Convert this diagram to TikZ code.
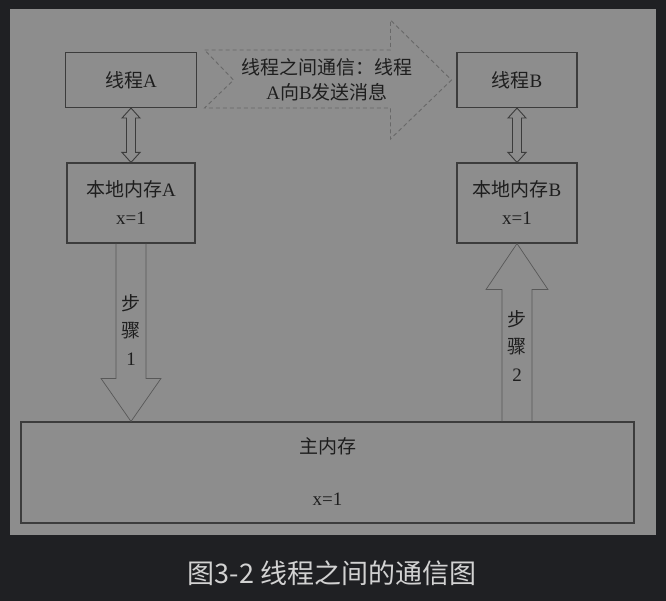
\documentclass[tikz,border=0pt]{standalone}
\usepackage{fontspec}
\setmainfont{Liberation Serif}
\newfontfamily\cjk{Noto Sans CJK SC}
\usetikzlibrary{positioning, calc}
\definecolor{bgdark}{HTML}{1F2023}
\definecolor{panelgray}{HTML}{8D8D8D}
\definecolor{boxline}{HTML}{3C3C3C}
\definecolor{arrline}{HTML}{585858}
\definecolor{dashline}{HTML}{686868}
\definecolor{inktext}{HTML}{1E1E1E}
\definecolor{captext}{HTML}{D2D2D2}

\begin{document}
\begin{tikzpicture}[x=1pt, y=-1pt, font=\fontsize{19}{25}\selectfont, text=inktext]
    \tikzset{
      membox/.style={draw=boxline, line width=1.1pt, align=center, inner sep=0pt},
      linkarrow/.style={draw=boxline, line width=0.9pt},
      steparrow/.style={draw=arrline, line width=0.7pt},
      msgarrow/.style={draw=dashline, line width=0.9pt, dash pattern=on 4pt off 3pt},
      steplabel/.style={align=center, font=\fontsize{19}{27.5}\selectfont}
    }
    \fill[bgdark] (0,0) rectangle (666,601);
    \fill[panelgray] (10,9) rectangle (656,535);
    \useasboundingbox (0,0) rectangle (666,601);

    \node[membox, minimum width=131, minimum height=55] (ta) at (131,80) {{\cjk 线程}A};
    \node[membox, minimum width=120, minimum height=55] (tb) at (517,80) {{\cjk 线程}B};
    \node[membox, minimum width=128, minimum height=80] (la) at (131,203) {{\cjk 本地内存}A\\[3pt]x=1};
    \node[membox, minimum width=120, minimum height=80] (lb) at (517,203) {{\cjk 本地内存}B\\[3pt]x=1};
    \node[membox, minimum width=613, minimum height=101] (mm) at (327.5,472.5) {};
    \node (mmt) at ($(mm.north)+(0,25)$) {\cjk 主内存};
    \node (mmx) at ($(mm.south)+(0,-24)$) {x=1};

    % thread <-> local memory
    \draw[linkarrow] (ta.south) -- ++(9,10) -- ++(-4.5,0) -- ($(la.north)+(4.5,-10)$) -- ++(4.5,0)
        -- (la.north) -- ++(-9,-10) -- ++(4.5,0) -- ($(ta.south)+(-4.5,10)$) -- ++(-4.5,0) -- cycle;
    \draw[linkarrow] (tb.south) -- ++(9,10) -- ++(-4.5,0) -- ($(lb.north)+(4.5,-10)$) -- ++(4.5,0)
        -- (lb.north) -- ++(-9,-10) -- ++(4.5,0) -- ($(tb.south)+(-4.5,10)$) -- ++(-4.5,0) -- cycle;

    % step 1 and step 2
    \draw[steparrow] ($(la.south)+(-15,0)$) -- ($(la.south |- mm.north)+(-15,-43)$) -- ++(-15,0)
        -- (la.south |- mm.north) -- ++(30,-43) -- ++(-15,0) -- ($(la.south)+(15,0)$);
    \draw[steparrow] ($(lb.south |- mm.north)+(-15,0)$) -- ($(lb.south)+(-15,46)$) -- ++(-16,0)
        -- (lb.south) -- ++(31,46) -- ++(-16,0) -- ($(lb.south |- mm.north)+(15,0)$);
    \node[steplabel] (s1) at (131,330) {{\cjk 步}\\{\cjk 骤}\\1};
    \node[steplabel] (s2) at (517,346) {{\cjk 步}\\{\cjk 骤}\\2};

    % message A -> B
    \draw[msgarrow] ($(ta.east)+(7.5,-30)$) -- ($(tb.west)+(-66,-30)$) -- ++(0,-30) -- ($(tb.west)+(-5,0)$)
        -- ++(-61,59) -- ++(0,-31) -- ($(ta.east)+(7.5,28)$) -- ($(ta.east)+(36.5,0)$) -- cycle;
    \node[align=center] (msg) at (327,80) {{\cjk 线程之间通信：线程}\\A{\cjk 向}B{\cjk 发送消息}};

    \node[text=captext, font=\cjk\fontsize{27}{30}\selectfont] (cap) at (332,573) {图3-2 线程之间的通信图};
\end{tikzpicture}
\end{document}
